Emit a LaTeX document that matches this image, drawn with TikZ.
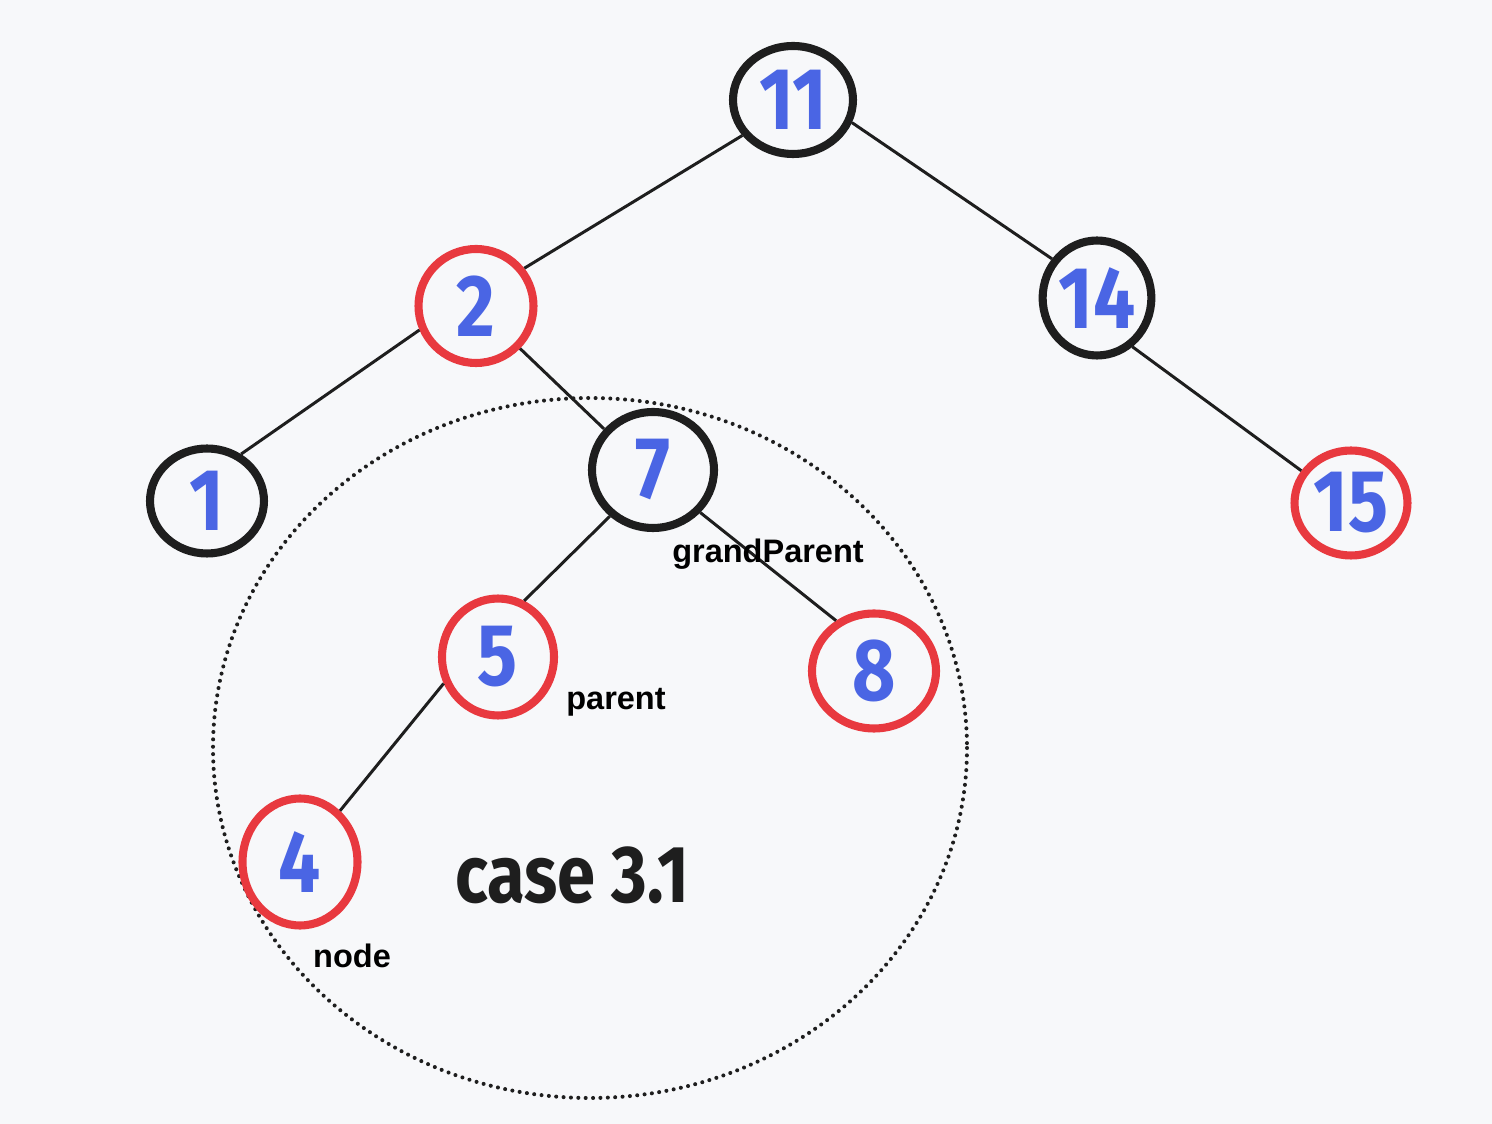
\documentclass[tikz,border=0pt]{standalone}
\usepackage{fontspec}
\setmainfont{Liberation Sans}
\newfontfamily\digitfont[FakeStretch=0.85]{Fira Sans}
\usetikzlibrary{shapes.geometric}
\definecolor{bgcol}{HTML}{F7F8FA}
\definecolor{keyblue}{HTML}{4A65E4}
\definecolor{redring}{HTML}{E8393F}
\definecolor{inkblack}{HTML}{1E1E1E}
\tikzset{
  treenode/.style={ellipse, inner sep=0pt, line width=4.6pt,
    font=\digitfont\bfseries\fontsize{50}{50}\selectfont, text=keyblue},
  blacknode/.style={treenode, draw=inkblack},
  rednode/.style={treenode, draw=redring},
  edge/.style={draw=inkblack, line width=1.7pt},
  role/.style={font=\bfseries\fontsize{18.5}{20}\selectfont, text=black},
  casering/.style={draw=inkblack, line width=2.3pt, dash pattern=on 0pt off 4.2pt, line cap=round}
}
\begin{document}
\begin{tikzpicture}[x=0.02cm,y=-0.02cm]
\fill[bgcol] (0,0) rectangle (1492,1124);
\useasboundingbox (0,0) rectangle (1492,1124);

% region of the recolouring case
\draw[casering] (590,748) ellipse [x radius=377, y radius=350];

% tree nodes
\node[blacknode, minimum width=2.40cm, minimum height=2.16cm] (n11) at (793,100) {11};
\node[rednode,   minimum width=2.30cm, minimum height=2.28cm] (n2)  at (476,306) {2};
\node[blacknode, minimum width=2.12cm, minimum height=2.30cm] (n14) at (1097,298) {14};
\node[blacknode, minimum width=2.28cm, minimum height=2.10cm] (n1)  at (207,501) {1};
\node[blacknode, minimum width=2.44cm, minimum height=2.32cm] (n7)  at (653,470) {7};
\node[rednode,   minimum width=2.26cm, minimum height=2.10cm] (n15) at (1351,503) {15};
\node[rednode,   minimum width=2.24cm, minimum height=2.34cm] (n5)  at (498,657) {5};
\node[rednode,   minimum width=2.48cm, minimum height=2.30cm] (n8)  at (874,671) {8};
\node[rednode,   minimum width=2.30cm, minimum height=2.54cm] (n4)  at (300,862) {4};

% tree edges, hand-placed on the ring borders
\path[edge] (n11.215) -- (n2.38);
\path[edge] (n11.339) -- (n14.139);
\path[edge] (n2.203) -- (n1.54);
\path[edge] (n2.316) -- (n7.140);
\path[edge] (n14.306) -- (n15.147);
\path[edge] (n7.227) -- (n5.65);
\path[edge] (n7.318) -- (n8.127);
\path[edge] (n5.206) -- (n4.52);

% role labels
\node[role] (lgp) at (768,554) {grandParent};
\node[role] (lp)  at (616,702) {parent};
\node[role] (ln)  at (352,956) {node};
\node[font=\digitfont\bfseries\fontsize{46}{46}\selectfont, text=inkblack] (lcase) at (572,875) {case 3.1};
\end{tikzpicture}
\end{document}
